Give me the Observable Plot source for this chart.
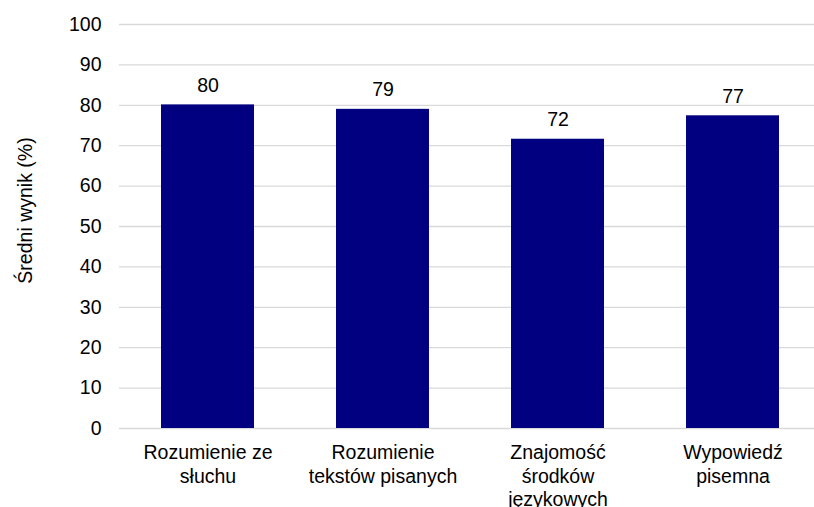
<!DOCTYPE html>
<html><head><meta charset="utf-8">
<script src="https://cdn.jsdelivr.net/npm/d3@7"></script>
<script src="https://cdn.jsdelivr.net/npm/@observablehq/plot@0.6"></script>
<style>body{margin:0;background:#fff}</style>
</head><body><div id="chart"></div>
<script>
const categories = ["Rozumienie ze\nsłuchu", "Rozumienie\ntekstów pisanych", "Znajomość\nśrodków\njęzykowych", "Wypowiedź\npisemna"];
const values = [80.1, 79.0, 71.6, 77.4];
const labels = ["80", "79", "72", "77"];
const yTicks = [0, 10, 20, 30, 40, 50, 60, 70, 80, 90, 100];
const yTitle = "Średni wynik (%)";

const data = categories.map((c, i) => ({category: c, value: values[i], label: labels[i]}));

const chart = Plot.plot({
  width: 814, height: 507,
  marginLeft: 119, marginRight: 0, marginTop: 24, marginBottom: 79,
  style: {fontFamily: "'Liberation Sans', Arial, sans-serif", fontSize: "19.5px", color: "#000", background: "#fff"},
  x: {domain: categories, range: [119, 820], paddingInner: 0.469, paddingOuter: 0.2345, label: null},
  y: {domain: [0, 100], label: null},
  marks: [
    Plot.gridY(yTicks, {stroke: "#d9d9d9", strokeOpacity: 1, strokeWidth: 1.3}),
    Plot.barY(data, {x: "category", y: "value", fill: "#000080"}),
    Plot.text(data, {x: "category", y: "value", text: "label", lineAnchor: "bottom", dy: -13, fill: "#000"}),
    Plot.axisY(yTicks, {tickSize: 0, tickPadding: 18, label: null}),
    Plot.axisX({tickSize: 0, tickPadding: 13, lineHeight: 1.23, label: null}),
    Plot.text([yTitle], {frameAnchor: "left", textAnchor: "middle", lineAnchor: "middle", rotate: -90, dx: -94, dy: -16, fill: "#000"})
  ]
});
document.getElementById("chart").appendChild(chart);
</script>
</body></html>
